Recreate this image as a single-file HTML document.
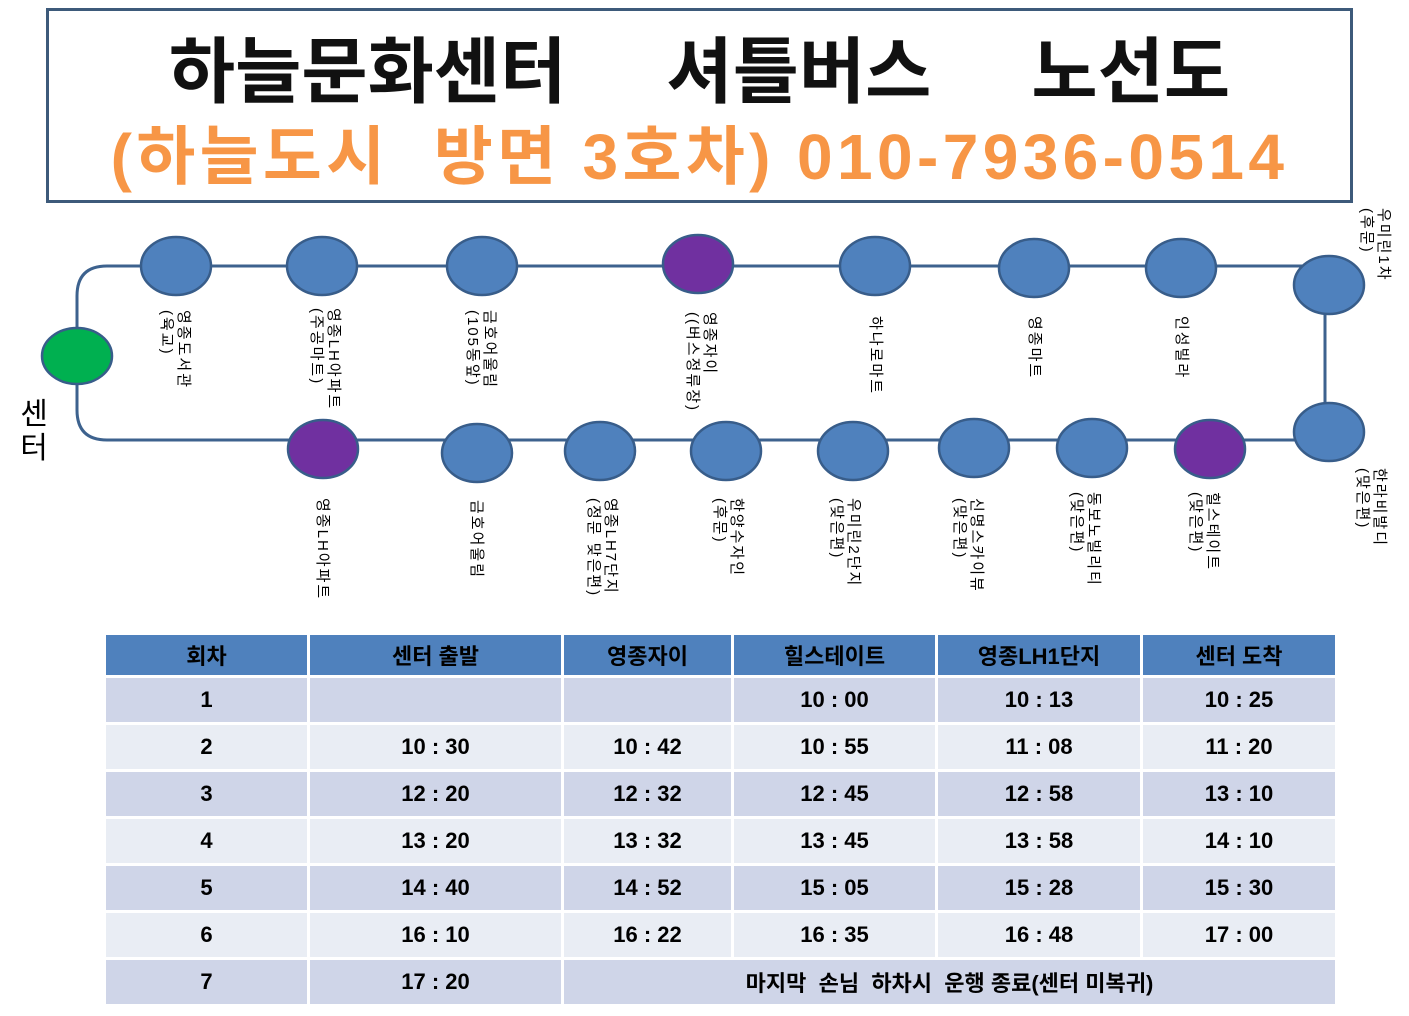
<!DOCTYPE html>
<html><head><meta charset="utf-8"><style>
body{margin:0;width:1409px;height:1016px;background:#fff;position:relative;overflow:hidden;font-family:"Liberation Sans","Noto Sans CJK KR","NanumGothic",sans-serif}
.title{position:absolute;left:46px;top:8px;width:1301px;height:189px;border:3px solid #3d5a7a}
.t1{position:absolute;left:0;right:0;top:22px;text-align:center;font-size:72px;font-weight:bold;color:#111;line-height:80px;word-spacing:30px}
.t2{position:absolute;left:0;right:0;top:110px;text-align:center;font-size:64px;font-weight:bold;color:#f79646;line-height:72px;letter-spacing:4.4px}
.lbl{position:absolute;transform:rotate(90deg);transform-origin:0 0;font-size:15px;line-height:17px;white-space:nowrap;color:#000;letter-spacing:2px}
table{position:absolute;left:106px;top:632px;width:1235px;border-collapse:separate;border-spacing:3px 3px;margin-left:-3px;font-size:22px;font-weight:bold;text-align:center}
td,th{padding:0;height:44px}
th{background:#4f81bd;color:#000;height:40px;font-weight:bold}
tr.a td{background:#cfd5e8}tr.b td{background:#e9edf4}
</style></head><body>
<div class="title">
<div class="t1">하늘문화센터 &nbsp;셔틀버스 &nbsp;노선도</div>
<div class="t2">(하늘도시 &nbsp;방면 3호차) 010-7936-0514</div>
</div>
<svg width="1409" height="630" style="position:absolute;left:0;top:0">
<path d="M1325 266 H107 Q77 266 77 296 V410 Q77 440 107 440 H1325" fill="none" stroke="#3d628e" stroke-width="3"/>
<line x1="1325" y1="266" x2="1325" y2="440" stroke="#3d628e" stroke-width="3"/>
<g stroke="#385d8a" stroke-width="2.5" fill="#4f81bd">
<ellipse cx="176" cy="266" rx="35" ry="29"/>
<ellipse cx="322" cy="266" rx="35" ry="29"/>
<ellipse cx="482" cy="266" rx="35" ry="29"/>
<ellipse cx="698" cy="264" rx="35" ry="29" fill="#7030a0"/>
<ellipse cx="875" cy="266" rx="35" ry="29"/>
<ellipse cx="1034" cy="268" rx="35" ry="29"/>
<ellipse cx="1181" cy="268" rx="35" ry="29"/>
<ellipse cx="1329" cy="285" rx="35" ry="29"/>
<ellipse cx="1329" cy="432" rx="35" ry="29"/>
<ellipse cx="1210" cy="449" rx="35" ry="29" fill="#7030a0"/>
<ellipse cx="1092" cy="448" rx="35" ry="29"/>
<ellipse cx="974" cy="448" rx="35" ry="29"/>
<ellipse cx="853" cy="451" rx="35" ry="29"/>
<ellipse cx="726" cy="451" rx="35" ry="29"/>
<ellipse cx="600" cy="451" rx="35" ry="29"/>
<ellipse cx="477" cy="453" rx="35" ry="29"/>
<ellipse cx="323" cy="449" rx="35" ry="29" fill="#7030a0"/>
<ellipse cx="77" cy="356" rx="35" ry="28" fill="#00b050"/>
</g>
</svg>
<div style="position:absolute;left:17px;top:398px;font-size:30px;line-height:34px;width:34px;text-align:center">센<br>터</div>
<div class="lbl" style="left:192px;top:310px">영종도서관<br>(육교)</div>
<div class="lbl" style="left:342px;top:308px">영종LH아파트<br>(주공마트)</div>
<div class="lbl" style="left:498px;top:310px">금호어울림<br>(105동앞)</div>
<div class="lbl" style="left:718px;top:312px">영종자이<br>((버스정류장)</div>
<div class="lbl" style="left:884px;top:316px">하나로마트</div>
<div class="lbl" style="left:1043px;top:316px">영종마트</div>
<div class="lbl" style="left:1190px;top:316px">인성빌라</div>
<div class="lbl" style="left:1392px;top:208px">우미린1차<br>(후문)</div>
<div class="lbl" style="left:1388px;top:468px">한라비발디<br>(맞은편)</div>
<div class="lbl" style="left:1221px;top:492px">힐스테이트<br>(맞은편)</div>
<div class="lbl" style="left:1102px;top:492px">동보노빌리티<br>(맞은편)</div>
<div class="lbl" style="left:985px;top:498px">신명스카이뷰<br>(맞은편)</div>
<div class="lbl" style="left:862px;top:498px">우미린2단지<br>(맞은편)</div>
<div class="lbl" style="left:745px;top:498px">한양수자인<br>(후문)</div>
<div class="lbl" style="left:619px;top:498px">영종LH7단지<br>(정문 맞은편)</div>
<div class="lbl" style="left:485px;top:500px">금호어울림</div>
<div class="lbl" style="left:331px;top:498px">영종LH아파트</div>
<table>
<colgroup><col style="width:201px"><col style="width:251px"><col style="width:167px"><col style="width:201px"><col style="width:202px"><col></colgroup>
<tr><th>회차</th><th>센터 출발</th><th>영종자이</th><th>힐스테이트</th><th>영종LH1단지</th><th>센터 도착</th></tr>
<tr class="a"><td>1</td><td></td><td></td><td>10 : 00</td><td>10 : 13</td><td>10 : 25</td></tr>
<tr class="b"><td>2</td><td>10 : 30</td><td>10 : 42</td><td>10 : 55</td><td>11 : 08</td><td>11 : 20</td></tr>
<tr class="a"><td>3</td><td>12 : 20</td><td>12 : 32</td><td>12 : 45</td><td>12 : 58</td><td>13 : 10</td></tr>
<tr class="b"><td>4</td><td>13 : 20</td><td>13 : 32</td><td>13 : 45</td><td>13 : 58</td><td>14 : 10</td></tr>
<tr class="a"><td>5</td><td>14 : 40</td><td>14 : 52</td><td>15 : 05</td><td>15 : 28</td><td>15 : 30</td></tr>
<tr class="b"><td>6</td><td>16 : 10</td><td>16 : 22</td><td>16 : 35</td><td>16 : 48</td><td>17 : 00</td></tr>
<tr class="a"><td>7</td><td>17 : 20</td><td colspan="4">마지막 &nbsp;손님 &nbsp;하차시 &nbsp;운행 종료(센터 미복귀)</td></tr>
</table>
</body></html>
